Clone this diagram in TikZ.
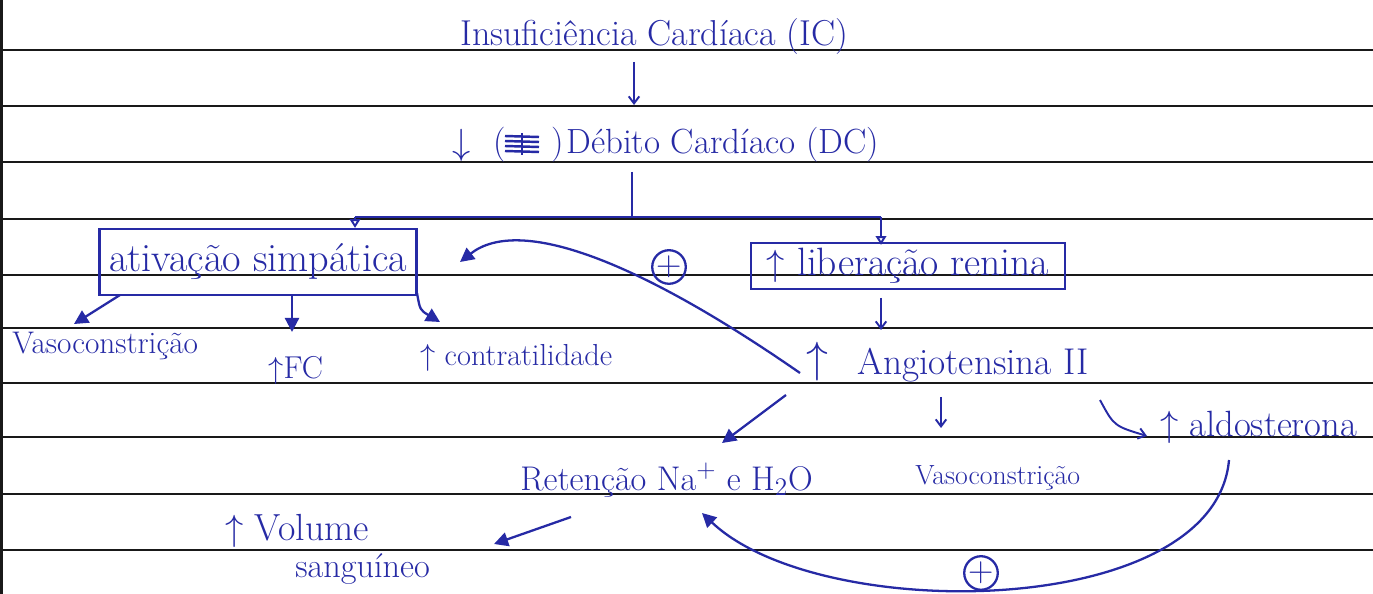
\documentclass[tikz,border=0pt]{standalone}
\usepackage{fontspec}
\usetikzlibrary{arrows.meta}
\definecolor{pen}{RGB}{38,42,165}
\definecolor{ruleline}{RGB}{25,25,25}
\newcommand\penfs[1]{\fontsize{#1}{#1}\selectfont}
\begin{document}
\begin{tikzpicture}[x=0.02cm,y=-0.02cm,
  hw/.style={text=pen,inner sep=0pt,anchor=west},
  pbox/.style={draw=pen,line width=1.3pt,inner sep=0pt},
  pline/.style={draw=pen,line width=1.3pt},
  con/.style={draw=pen,line width=1.3pt,-{Triangle[length=8pt,width=8pt]}},
  thin/.style={draw=pen,line width=1.1pt,-{Straight Barb[length=4pt,width=6pt]}},
  drop/.style={draw=pen,line width=1.1pt,-{Triangle[open,length=5pt,width=6pt]}},
  pluscirc/.style={circle,draw=pen,line width=1.3pt,text=pen,inner sep=0pt,minimum size=0.6cm,font=\penfs{20}}]
\useasboundingbox (0,0) rectangle (1373,594);
\fill[white] (0,0) rectangle (1373,594);
% ruled paper
\foreach \y in {50,106,162,219,275,328,383,437,494,550}
  \draw[ruleline,line width=1.1pt] (0,\y) -- (1373,\y);
\draw[ruleline,line width=1.2pt] (1.5,0) -- (1.5,594);

% nodes
\node[hw,font=\penfs{20.5}] (ic) at (460,37) {Insuficiência Cardíaca (IC)};
\node[hw,font=\penfs{20}] (dcv) at (452,145) {$\downarrow$};
\node[hw,font=\penfs{20}] (scr) at (493,145) {(\hspace{1.3em})};
\node[hw,font=\penfs{19.9}] (dc) at (566,145) {Débito Cardíaco (DC)};
% scribble inside the parentheses
\foreach \d in {136,141,146,151}
  \draw[pen,line width=1.4pt] (505,\d) -- (539,\d+1);
\draw[pen,line width=1.2pt] (522,133) -- (522,155);

\node[pbox,minimum width=6.34cm,minimum height=1.32cm,font=\penfs{22.9},text=pen] (sym) at (258,262) {ativação simpática};
\node[pbox,minimum width=6.28cm,minimum height=0.92cm,font=\penfs{22.5},text=pen] (ren) at (908,266) {$\uparrow$ liberação renina};

\node[hw,font=\penfs{17.8}] (vaso1) at (12,346) {Vasoconstrição};
\node[hw,font=\penfs{18}] (fc) at (268,370) {$\uparrow$FC};
\node[hw,font=\penfs{17.3}] (contr) at (420,358) {$\uparrow$ contratilidade};

\node[pluscirc] (plus1) at (669,267) {+};

\node[hw,font=\penfs{24}] (angup) at (806,362) {$\uparrow$};
\node[hw,font=\penfs{21.2}] (ang) at (857,365) {Angiotensina II};

\node[hw,font=\penfs{19.5}] (ret) at (520,480) {Retenção Na$^+$ e H$_2$O};
\node[hw,font=\penfs{15.8}] (vaso2) at (915,478) {Vasoconstrição};
\node[hw,font=\penfs{20.8}] (ald) at (1160,427) {$\uparrow$ aldosterona};

\node[hw,font=\penfs{21.5}] (vol) at (225,531) {$\uparrow$ Volume};
\node[hw,font=\penfs{19.5}] (sang) at (295,569) {sanguíneo};

\node[pluscirc] (plus2) at (981,573) {+};

% connector end points
\coordinate (icA) at (634,62);
\coordinate (dcA) at (634,105);
\coordinate (dcB) at (632,172);
\coordinate (br) at (632,217);
\coordinate (brL) at (355,217);
\coordinate (brR) at (881,217);
\coordinate (symL) at (120,295);
\coordinate (symM) at (292,295);
\coordinate (symR) at (417,293);
\coordinate (vaso1T) at (74,324);
\coordinate (fcT) at (292,332);
\coordinate (contrT) at (440,322);
\coordinate (angS) at (800,373);
\coordinate (symE) at (460,262);
\coordinate (renS) at (881,298);
\coordinate (angN) at (881,330);
\coordinate (angSW) at (786,395);
\coordinate (retN) at (722,443);
\coordinate (angS2) at (941,397);
\coordinate (vaso2N) at (941,428);
\coordinate (angSE) at (1100,400);
\coordinate (aldW) at (1147,436);
\coordinate (retS) at (571,517);
\coordinate (volE) at (494,544);
\coordinate (aldS) at (1229,460);
\coordinate (retSE) at (702,513);

% connectors
\draw[thin] (icA) -- (dcA);
\draw[pline] (dcB) -- (br);
\draw[pline] (brL) -- (brR);
\draw[drop] (brL) -- (brL |- sym.north);
\draw[drop] (brR) -- ([yshift=-0.06cm]brR |- ren.north);

\draw[con] (symL) -- (vaso1T);
\draw[con] (symM) -- (fcT);
\draw[con] (symR) .. controls (420,310) .. (contrT);

\draw[con] (angS) .. controls (640,262) and (520,215) .. (symE);

\draw[thin] (renS) -- (angN);
\draw[con] (angSW) -- (retN);
\draw[thin] (angS2) -- (vaso2N);
\draw[thin] (angSE) .. controls (1114,426) .. (aldW);

\draw[con] (retS) -- (volE);

\draw[con] (aldS) .. controls (1215,620) and (820,625) .. (retSE);
\end{tikzpicture}
\end{document}
